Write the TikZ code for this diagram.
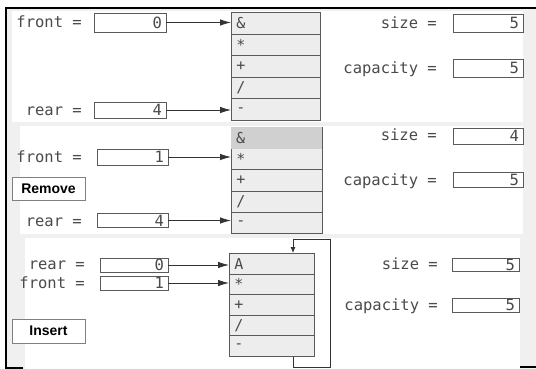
\documentclass[tikz,border=0pt]{standalone}
\usepackage{fontspec}
\setmonofont{DejaVu Sans Mono}
\setsansfont{Liberation Sans}
\usetikzlibrary{arrows.meta}
\definecolor{bggrey}{HTML}{F0F0F0}
\definecolor{cellfill}{HTML}{EDEDED}
\definecolor{cellgone}{HTML}{D0D0D0}
\definecolor{ink}{HTML}{4A4A4A}
\definecolor{edge}{HTML}{5A5A5A}
\begin{document}
\begin{tikzpicture}[x=1pt,y=-1pt,
  lbl/.style={font=\ttfamily\fontsize{15.5}{16}\selectfont, text=ink, anchor=east, inner sep=0pt,
    text height=11pt, text depth=0pt},
  valbox/.style={draw=edge, line width=0.9pt, fill=white, inner xsep=4pt, inner ysep=0pt,
    font=\ttfamily\fontsize{15.5}{16}\selectfont, text=ink, align=right},
  cell/.style={draw=edge, line width=0.9pt, fill=cellfill, anchor=north west, inner xsep=5pt,
    inner ysep=0pt, font=\ttfamily\fontsize{15}{16}\selectfont, text=ink, align=left},
  tag/.style={draw=gray, line width=0.6pt, fill=white, minimum width=73pt, inner sep=0pt,
    font=\sffamily\bfseries\fontsize{14}{14}\selectfont},
  link/.style={draw=black!80, line width=0.8pt, -{Latex[length=11pt,width=6.5pt]}},
  frame/.style={line width=2pt, black}]
\useasboundingbox (0,0) rectangle (536,369);

% backdrop and the three white panels
\fill[bggrey] (6,8) rectangle (536,369);
\fill[white] (12,11) rectangle (523,122);
\fill[white] (20,126) rectangle (523,234);
\fill[white] (25,238) rectangle (520,369);

% outer frame pieces
\draw[frame] (5,8) -- (536,8);
\draw[frame] (6,8) -- (6,368) -- (23,368);
\draw[frame] (520,367) -- (536,367);

% ---------- panel 1: initial queue ----------
\foreach \s [count=\i] in {\&,*,+,/,-}
  \node[cell, minimum width=89pt, minimum height=21.6pt, text width=79pt]
    (p1c\i) at (231,{12+21.6*(\i-1)}) {\s};
\node[valbox, minimum height=19pt, text width=64pt] (p1f) at (130,22.5) {0};
\node[valbox, minimum height=16pt, text width=64pt] (p1r) at (130,110) {4};
\node[lbl] (p1fl) at (82,22.5) {front =};
\node[lbl] (p1rl) at (82,110) {rear =};
\draw[link] (p1f.east) -- (p1f.east -| p1c1.west);
\draw[link] (p1r.east) -- (p1r.east -| p1c5.west);
\node[valbox, minimum height=18pt, text width=62pt] (p1s) at (488,23) {5};
\node[valbox, minimum height=18pt, text width=62pt] (p1k) at (488,68) {5};
\node[lbl] (p1sl) at (437,23) {size =};
\node[lbl] (p1kl) at (437,68) {capacity =};

% ---------- panel 2: after a removal ----------
\foreach \s [count=\i] in {\&,*,+,/,-}
  \node[cell, minimum width=91pt, minimum height=21.2pt, text width=81pt]
    (p2c\i) at (231,{127+21.2*(\i-1)}) {\s};
\fill[cellgone] ([xshift=0.45pt,yshift=-0.45pt]p2c1.north west) rectangle ([xshift=-0.45pt,yshift=0.45pt]p2c1.south east);
\node[font=\ttfamily\fontsize{15}{16}\selectfont, text=ink, anchor=west, inner sep=0pt] (p2g) at ([xshift=5pt]p2c1.west) {\&};
\node[valbox, minimum height=16pt, text width=63pt] (p2f) at (132.5,157) {1};
\node[valbox, minimum height=14pt, text width=63pt] (p2r) at (132.5,220.5) {4};
\node[lbl] (p2fl) at (82,157) {front =};
\node[lbl] (p2rl) at (82,220.5) {rear =};
\draw[link] (p2f.east) -- (p2f.east -| p2c2.west);
\draw[link] (p2r.east) -- (p2r.east -| p2c5.west);
\node[valbox, minimum height=16pt, text width=62pt] (p2s) at (488,136) {4};
\node[valbox, minimum height=15pt, text width=62pt] (p2k) at (488,179.5) {5};
\node[lbl] (p2sl) at (437,135) {size =};
\node[lbl] (p2kl) at (437,180) {capacity =};
\node[tag, minimum height=23pt] (rm) at (48.5,188.5) {Remove};

% ---------- panel 3: after an insertion with wrap-around ----------
\foreach \s [count=\i] in {A,*,+,/,-}
  \node[cell, minimum width=85pt, minimum height=20.6pt, text width=75pt]
    (p3c\i) at (229,{253+20.6*(\i-1)}) {\s};
\node[valbox, minimum height=14pt, text width=60pt] (p3r) at (134,265) {0};
\node[valbox, minimum height=14pt, text width=60pt] (p3f) at (134,283) {1};
\node[lbl] (p3rl) at (85,264) {rear =};
\node[lbl] (p3fl) at (85,283) {front =};
\draw[link] (p3r.east) -- (p3r.east -| p3c1.west);
\draw[link] (p3f.east) -- (p3f.east -| p3c2.west);
\coordinate (wx) at (293,0);
\coordinate (lb) at (330,367);
\coordinate (lt) at (330,239);
\draw[draw=black!80, line width=0.8pt, -{Latex[length=6pt,width=5pt]}]
  (wx |- p3c5.south) -- (wx |- lb) -- (lb) -- (lt) -- (wx |- lt) -- (wx |- p3c1.north);
\node[valbox, minimum height=13pt, text width=59pt] (p3s) at (485.5,264.5) {5};
\node[valbox, minimum height=14pt, text width=59pt] (p3k) at (485.5,305) {5};
\node[lbl] (p3sl) at (438,264) {size =};
\node[lbl] (p3kl) at (438,305) {capacity =};
\node[tag, minimum height=24pt] (ins) at (48.5,331) {Insert};
\end{tikzpicture}
\end{document}
